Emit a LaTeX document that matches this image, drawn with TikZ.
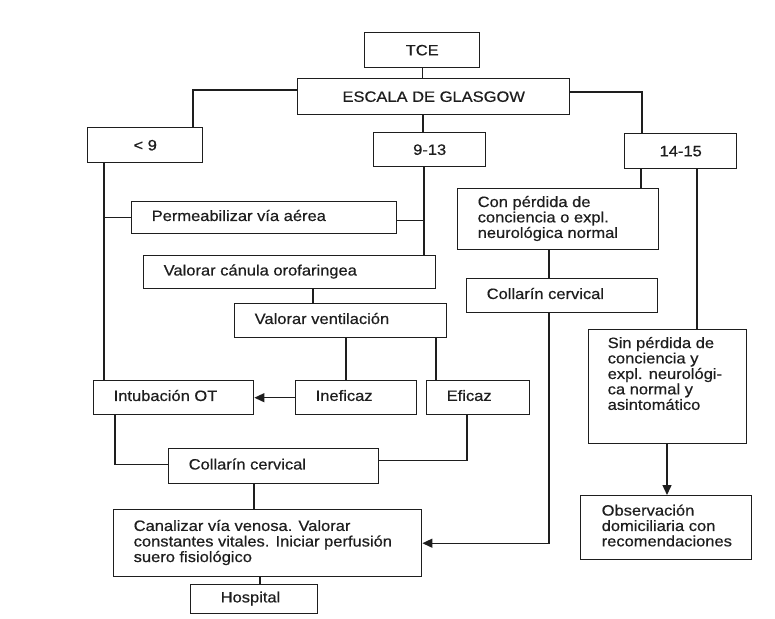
\documentclass[tikz,border=0pt]{standalone}
\usepackage{fontspec}
\setmainfont{Liberation Sans}[FakeStretch=1.1,FakeBold=0.5]
\usetikzlibrary{arrows.meta,calc}
\newcommand\boxtxt[2]{\makebox[#1][l]{\begin{tabular}{@{}l@{}}#2\end{tabular}}}
\definecolor{ink}{HTML}{1E1E1E}
\begin{document}
\begin{tikzpicture}[x=1pt,y=-1pt,
  every node/.style={font=\fontsize{15}{15}\selectfont, text=ink},
  box/.style={draw=ink, line width=1.4pt, anchor=north west, inner ysep=0pt, inner xsep=20pt},
  cbox/.style={draw=ink, line width=1.4pt, anchor=north west, inner sep=0pt, align=center},
  conn/.style={draw=ink, line width=1.4pt},
  arr/.style={draw=ink, line width=1.4pt, -{Triangle[length=10pt,width=9pt]}}]
\useasboundingbox[fill=white] (0,0) rectangle (775,618);

% boxes
\node[cbox, minimum width=115pt, minimum height=35pt] (tce) at (364,32) {TCE};
\node[cbox, minimum width=272pt, minimum height=36pt] (glasgow) at (297,78) {ESCALA DE GLASGOW};
\node[cbox, minimum width=115pt, minimum height=35pt] (lt9) at (87,127) {< 9};
\node[cbox, minimum width=112pt, minimum height=34pt] (g913) at (373,132) {9-13};
\node[cbox, minimum width=112pt, minimum height=35pt] (g1415) at (624,133) {14-15};

\node[box, minimum height=32pt] (perm) at (131,201) {\boxtxt{225pt}{Permeabilizar vía aérea}};
\node[box, minimum height=33pt] (canula) at (143,255) {\boxtxt{252pt}{Valorar cánula orofaringea}};
\node[box, minimum height=34pt] (vent) at (234,303) {\boxtxt{172pt}{Valorar ventilación}};
\node[box, minimum height=34pt] (intub) at (93,380) {\boxtxt{120pt}{Intubación OT}};
\node[box, minimum height=34pt] (inef) at (295,380) {\boxtxt{81pt}{Ineficaz}};
\node[box, minimum height=34pt] (efic) at (426,380) {\boxtxt{63pt}{Eficaz}};
\node[box, minimum height=35pt] (coll1) at (168,448) {\boxtxt{170pt}{Collarín cervical}};
\node[box, minimum height=67pt] (canal) at (113,509) {\boxtxt{268pt}{Canalizar vía venosa. Valorar\\constantes vitales. Iniciar perfusión\\suero fisiológico}};
\node[box, inner xsep=30pt, minimum height=29pt] (hosp) at (190,584) {\boxtxt{67pt}{Hospital}};

\node[box, minimum height=61pt] (conp) at (457,188) {\boxtxt{161pt}{Con pérdida de\\conciencia o expl.\\neurológica normal}};
\node[box, minimum height=34pt] (coll2) at (466,278) {\boxtxt{151pt}{Collarín cervical}};
\node[box, inner xsep=19pt, minimum height=114pt] (sinp) at (588,329) {\boxtxt{120pt}{Sin pérdida de\\conciencia y\\expl. neurológi-\\ca normal y\\asintomático\\[22pt]}};
\node[box, inner xsep=21pt, minimum height=64pt] (obs) at (580,495) {\boxtxt{129pt}{Observación\\domiciliaria con\\recomendaciones}};

% helper coordinates
\coordinate (gl) at ($(glasgow.north west)+(0,12)$);
\coordinate (l9t) at ($(lt9.north west)+(106,0)$);
\coordinate (gr) at ($(glasgow.north east)+(0,14)$);
\coordinate (r15t) at ($(g1415.north west)+(18,0)$);
\coordinate (c913) at ($(g913.north west)+(50,0)$);
\coordinate (l9b) at ($(lt9.south west)+(17,0)$);
\coordinate (c913b) at ($(g913.south west)+(51,0)$);
\coordinate (pr) at ($(perm.east)+(0,3)$);
\coordinate (cv) at ($(vent.north west)+(79,0)$);
\coordinate (vi) at ($(inef.north west)+(51,0)$);
\coordinate (ve) at ($(efic.north west)+(10,0)$);
\coordinate (ib) at ($(intub.south west)+(22,0)$);
\coordinate (c1l) at ($(coll1.west)+(0,-2)$);
\coordinate (eb) at ($(efic.south west)+(41,0)$);
\coordinate (c1r) at ($(coll1.east)+(0,-6)$);
\coordinate (c1b) at ($(coll1.south west)+(86,0)$);
\coordinate (hb) at ($(hosp.north west)+(70,0)$);
\coordinate (r15b) at ($(g1415.south west)+(17,0)$);
\coordinate (s15b) at ($(g1415.south west)+(73,0)$);
\coordinate (cc) at ($(conp.south west)+(92,0)$);
\coordinate (c2b) at ($(coll2.south west)+(83,0)$);
\coordinate (sb) at ($(sinp.south west)+(79,0)$);

% connectors
\draw[conn] (tce.south) -- (tce.south |- glasgow.north);
\draw[conn] (gl) -| (l9t);
\draw[conn] (gr) -| (r15t);
\draw[conn] (c913) -- (c913 |- glasgow.south);
\draw[conn] (l9b) -- (l9b |- intub.north);
\draw[conn] (perm.west) -- (perm.west -| l9b);
\draw[conn] (c913b) -- (c913b |- canula.north);
\draw[conn] (pr) -- (pr -| c913b);
\draw[conn] (cv |- canula.south) -- (cv);
\draw[conn] (vi |- vent.south) -- (vi);
\draw[conn] (ve |- vent.south) -- (ve);
\draw[arr] (inef.west) -- (intub.east);
\draw[conn] (ib) |- (c1l);
\draw[conn] (eb) |- (c1r);
\draw[conn] (c1b) -- (c1b |- canal.north);
\draw[conn] (hb |- canal.south) -- (hb);
\draw[conn] (r15b) -- (r15b |- conp.north);
\draw[conn] (s15b) -- (s15b |- sinp.north);
\draw[conn] (cc) -- (cc |- coll2.north);
\draw[arr] (c2b) |- (canal.east);
\draw[arr] (sb) -- (sb |- obs.north);
\end{tikzpicture}
\end{document}
